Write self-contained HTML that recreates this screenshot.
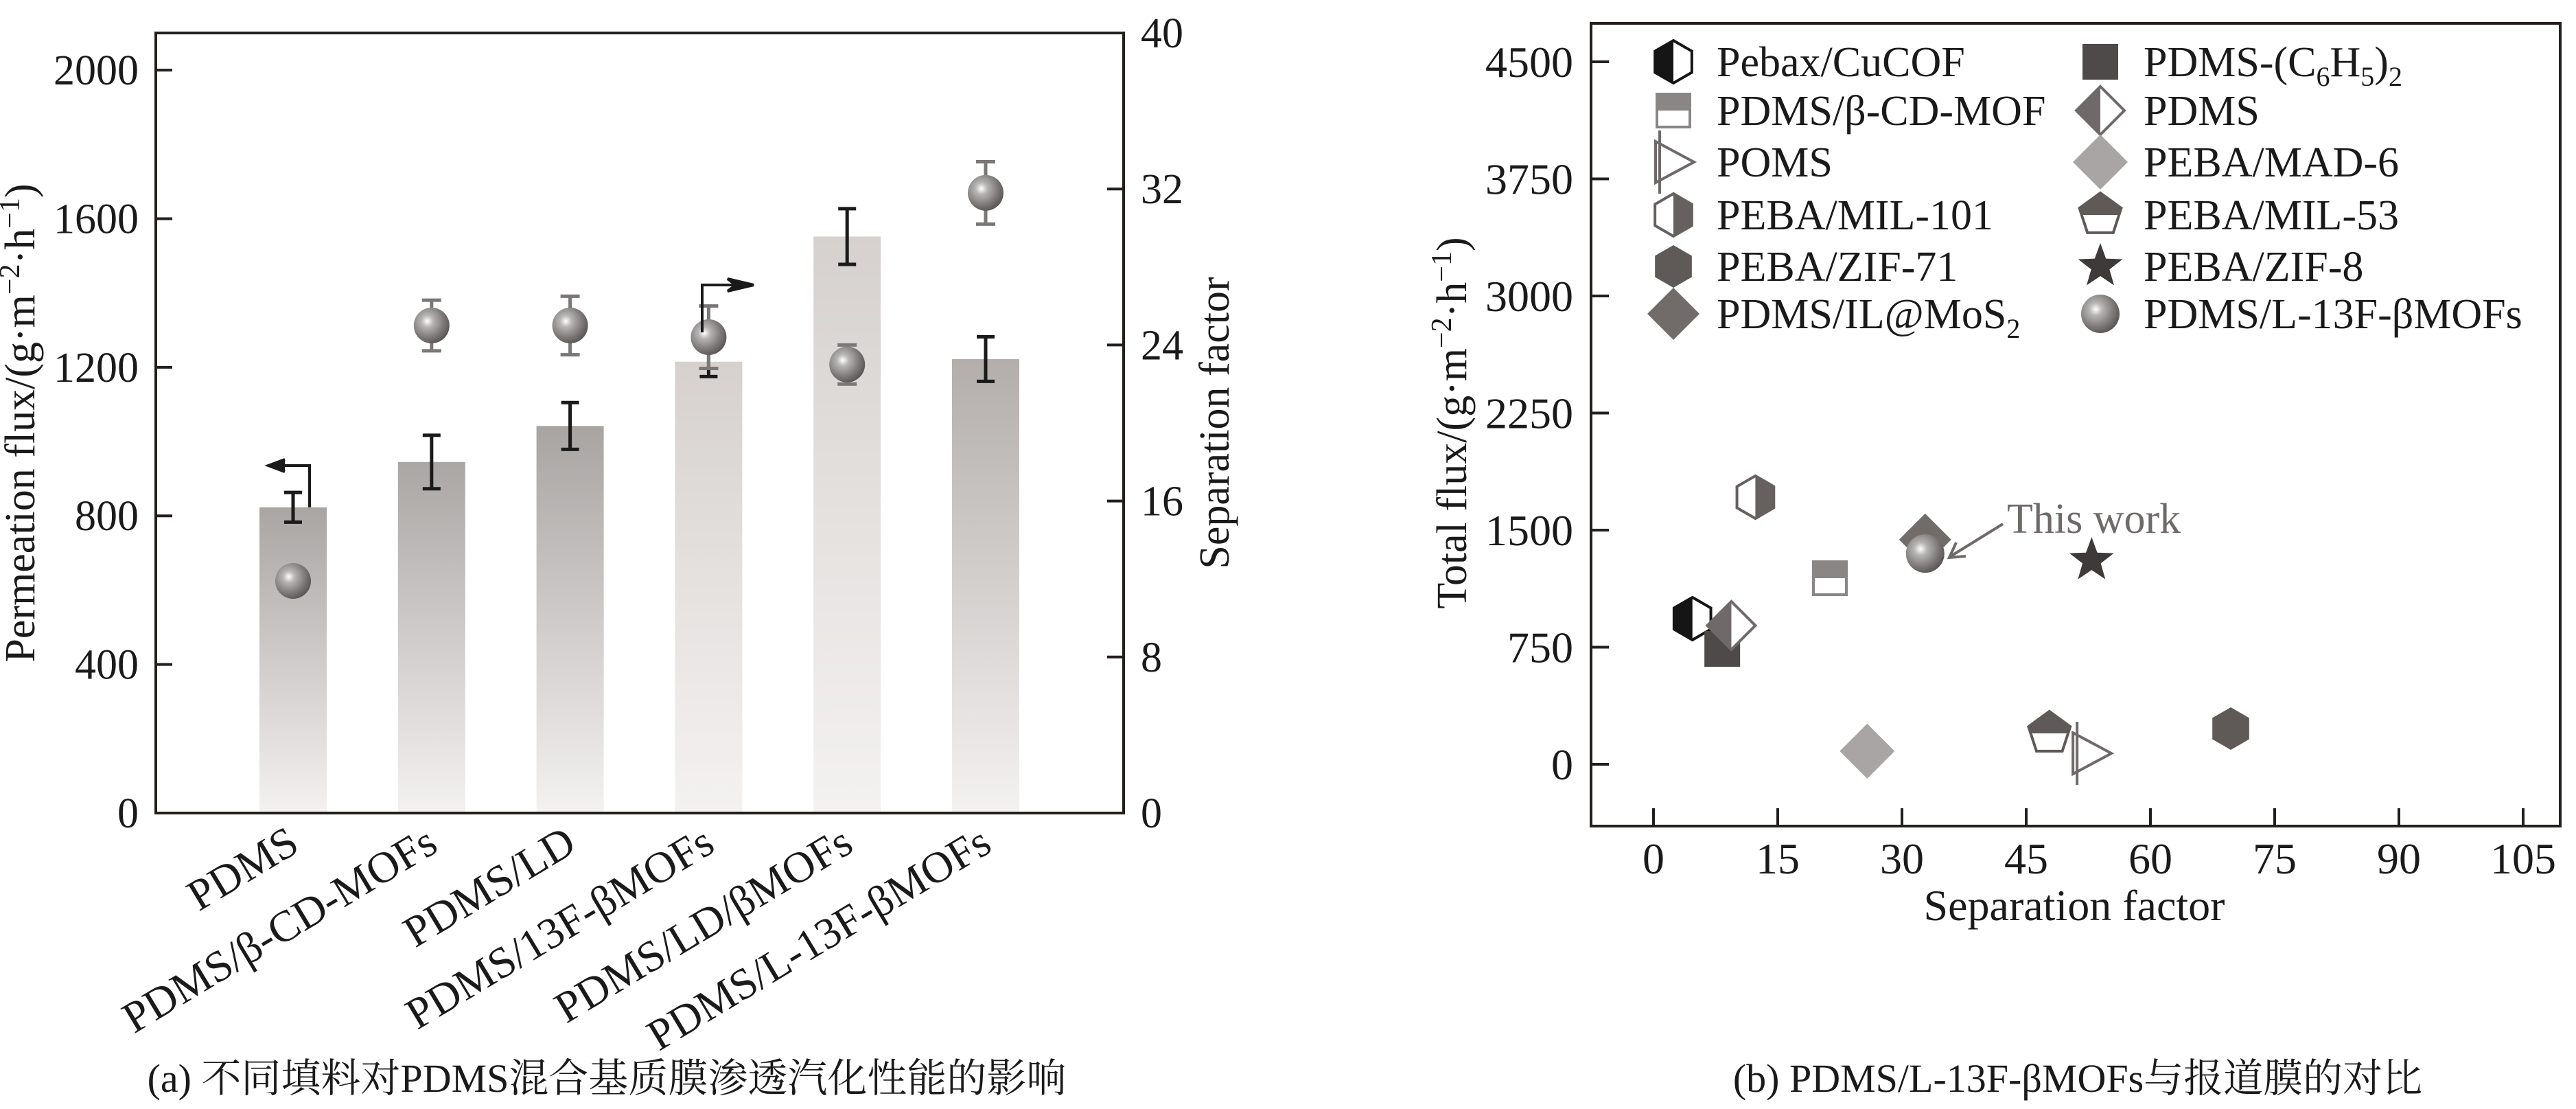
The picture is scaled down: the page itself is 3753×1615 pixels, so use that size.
<!DOCTYPE html>
<html><head><meta charset="utf-8"><style>
html,body{margin:0;padding:0;background:#fff}
svg, svg text{font-family:"Liberation Serif","Noto Serif CJK SC",serif}
svg text{fill:#1a1a1a}
</style></head><body>
<svg id="s" width="3753" height="1610" viewBox="0 0 3753 1610" xmlns="http://www.w3.org/2000/svg" font-family="'Liberation Serif','Noto Serif CJK SC',serif">
<defs>
<radialGradient id="sph" cx="0.38" cy="0.38" r="0.65">
<stop offset="0" stop-color="#ffffff"/><stop offset="0.25" stop-color="#b8b6b5"/><stop offset="0.7" stop-color="#7d7a79"/><stop offset="1" stop-color="#5a5756"/>
</radialGradient>
</defs>
<g id="left"></g>
<g id="right"></g>
</svg>
<script>
// ---- Panel (a) data ----
const categories = ["PDMS","PDMS/β-CD-MOFs","PDMS/LD","PDMS/13F-βMOFs","PDMS/LD/βMOFs","PDMS/L-13F-βMOFs"];
const fluxValues = [823, 945, 1042, 1215, 1552, 1222];
const fluxErrors = [40, 72, 63, 40, 75, 60];
const sepValues = [11.9, 25.0, 25.0, 24.4, 23.0, 31.8];
const sepErrors = [0.6, 1.3, 1.5, 1.6, 1.0, 1.6];
const leftTicks = [0, 400, 800, 1200, 1600, 2000];
const rightTicks = [0, 8, 16, 24, 32, 40];
const barTopColors = ["#a9a5a3","#aaa6a4","#a8a4a2","#d6d1ce","#d6d1ce","#b3aeab"];
// ---- Panel (b) data ----
const seriesNames = ["Pebax/CuCOF","PDMS/β-CD-MOF","POMS","PEBA/MIL-101","PEBA/ZIF-71","PDMS/IL@MoS2","PDMS-(C6H5)2","PDMS","PEBA/MAD-6","PEBA/MIL-53","PEBA/ZIF-8","PDMS/L-13F-βMOFs"];
const seriesSep = [4.7, 21.3, 52.8, 12.3, 69.7, 32.8, 8.3, 9.4, 25.8, 47.8, 52.9, 32.8];
const seriesFlux = [933, 1192, 70, 1711, 229, 1439, 739, 889, 84, 198, 1306, 1350];
const seriesMarkers = ["hexL","sqHalf","tri","hexR","hex","dia","sq","diaHalf","diaLight","pent","star","sphere"];
const xTicksB = [0, 15, 30, 45, 60, 75, 90, 105];
const yTicksB = [0, 750, 1500, 2250, 3000, 3750, 4500];

const NS="http://www.w3.org/2000/svg";
const FF="'Liberation Serif','Noto Serif CJK SC',serif";
function mk(parent, tag, attrs, text){const e=document.createElementNS(NS,tag);for(const k in attrs)e.setAttribute(k,attrs[k]);if(tag==='text')e.setAttribute('font-family',FF);if(text!==undefined)e.textContent=text;parent.appendChild(e);return e;}

// ===== Panel (a) =====
const L=document.getElementById('left');
const ax={x0:227,x1:1637,y0:1184,y1:48};
const yL=v=>ax.y0-v/2100*(ax.y0-ax.y1);
const yR=v=>ax.y0-v/40*(ax.y0-ax.y1);
const xBar=i=>427+i*201.8;
const defs=document.querySelector('defs');
categories.forEach((c,i)=>{
  const g=mk(defs,'linearGradient',{id:'bg'+i,x1:0,y1:0,x2:0,y2:1});
  mk(g,'stop',{offset:0,'stop-color':barTopColors[i]});
  mk(g,'stop',{offset:1,'stop-color':'#f4f2f1'});
});
categories.forEach((c,i)=>{
  const cx=xBar(i), top=yL(fluxValues[i]);
  const b=mk(L,'rect',{x:cx-49,y:top,width:98,height:ax.y0-top,fill:'url(#bg'+i+')'});
  
  
});
categories.forEach((c,i)=>{
  const cx=xBar(i), hi=yL(fluxValues[i]+fluxErrors[i]), lo=yL(fluxValues[i]-fluxErrors[i]);
  const g=mk(L,'g',{stroke:'#1a1a1a','stroke-width':5});
  
  
  mk(g,'line',{x1:cx,y1:hi,x2:cx,y2:lo});
  mk(g,'line',{x1:cx-13,y1:hi,x2:cx+13,y2:hi});
  mk(g,'line',{x1:cx-13,y1:lo,x2:cx+13,y2:lo});
});
categories.forEach((c,i)=>{
  const cx=xBar(i), cy=yR(sepValues[i]), hi=yR(sepValues[i]+sepErrors[i]), lo=yR(sepValues[i]-sepErrors[i]);
  const g=mk(L,'g',{});
  
  
  const e=mk(g,'g',{stroke:'#7a7776','stroke-width':5});
  mk(e,'line',{x1:cx,y1:hi,x2:cx,y2:lo});
  mk(e,'line',{x1:cx-14,y1:hi,x2:cx+14,y2:hi});
  mk(e,'line',{x1:cx-14,y1:lo,x2:cx+14,y2:lo});
  mk(g,'circle',{cx:cx,cy:cy,r:26,fill:'url(#sph)'});
});
const a1=mk(L,'g',{stroke:'#1a1a1a','stroke-width':4,fill:'none'});


mk(a1,'polyline',{points:`${xBar(0)+24},${yL(fluxValues[0])} ${xBar(0)+24},678 ${xBar(0)-34},678`});
mk(a1,'path',{d:`M${xBar(0)-12},669 L${xBar(0)-36},678 L${xBar(0)-12},687`,fill:'#1a1a1a'});
const a2=mk(L,'g',{stroke:'#1a1a1a','stroke-width':4,fill:'none'});


mk(a2,'polyline',{points:`1023,484 1023,415 1094,415`});
mk(a2,'path',{d:`M1060,406 L1098,415 L1060,424 L1072,415 Z`,fill:'#1a1a1a'});
const box=mk(L,'rect',{x:ax.x0,y:ax.y1,width:ax.x1-ax.x0,height:ax.y0-ax.y1,fill:'none',stroke:'#231f1d','stroke-width':4});


leftTicks.forEach(v=>{
  const y=yL(v);
  mk(L,'line',{x1:ax.x0,y1:y,x2:ax.x0+24,y2:y,stroke:'#231f1d','stroke-width':4});
  const t=mk(L,'text',{x:202,y:y+21,'text-anchor':'end','font-size':62},String(v));
  
  
});
rightTicks.forEach(v=>{
  const y=yR(v);
  mk(L,'line',{x1:ax.x1-24,y1:y,x2:ax.x1,y2:y,stroke:'#231f1d','stroke-width':4});
  const t=mk(L,'text',{x:1662,y:y+21,'font-size':62},String(v));
  
  
});
categories.forEach((c,i)=>{
  const x=xBar(i)+12, y=1238;
  const t=mk(L,'text',{x:x,y:y,'text-anchor':'end','font-size':64,transform:`rotate(-31 ${x} ${y})`},c);
  
  
});
</script>
<script>
const S=document.getElementById('s');
const la=mk(S,'text',{x:0,y:0,'font-size':62,'text-anchor':'middle',transform:'translate(50 616) rotate(-90)'});


la.innerHTML='Permeation flux/(g·m<tspan dy="-22" font-size="42">−2</tspan><tspan dy="22">·h</tspan><tspan dy="-22" font-size="42">−1</tspan><tspan dy="22">)</tspan>';
const ra=mk(S,'text',{x:0,y:0,'font-size':62,'text-anchor':'middle',transform:'translate(1790 616) rotate(-90)'},'Separation factor');


const capA=mk(S,'text',{x:884,y:1590,'font-size':58,'text-anchor':'middle'},'(a) 不同填料对PDMS混合基质膜渗透汽化性能的影响');



// ===== Panel (b) =====
const R=document.getElementById('right');
const bx={x0:2318,x1:3730,y0:1203,y1:34};
const xB=v=>2409+v*(181/15);
const yB=v=>1113-v*(1023/4500);
function marker(g,type,cx,cy){
  const hexPts=(r)=>{let p=[];for(let k=0;k<6;k++){const a=Math.PI/180*(60*k-90);p.push([cx+r*Math.cos(a),cy+r*Math.sin(a)]);}return p;};
  const P=a=>a.map(q=>q.join(',')).join(' ');
  if(type==='hexL'||type==='hexR'||type==='hex'){
    const r=31,p=hexPts(r);
    if(type==='hex'){mk(g,'polygon',{points:P(p),fill:'#5f5a58'});return;}
    const dark=type==='hexL'?'#151515':'#66615f';
    mk(g,'polygon',{points:P(p),fill:'#fff'});
    const half=type==='hexL'?[p[0],p[5],p[4],p[3]]:[p[0],p[1],p[2],p[3]];
    mk(g,'polygon',{points:P(half),fill:dark});
    mk(g,'polygon',{points:P(p),fill:'none',stroke:dark,'stroke-width':4});
  } else if(type==='sq'){
    mk(g,'rect',{x:cx-26,y:cy-26,width:52,height:52,fill:'#4e4a49'});
  } else if(type==='sqHalf'){
    mk(g,'rect',{x:cx-24,y:cy-24,width:48,height:48,fill:'#fff',stroke:'#8a8685','stroke-width':4});
    mk(g,'rect',{x:cx-24,y:cy-24,width:48,height:24,fill:'#8a8685'});
  } else if(type==='dia'||type==='diaLight'){
    const r=type==='dia'?38:40;
    mk(g,'polygon',{points:`${cx},${cy-r} ${cx+r},${cy} ${cx},${cy+r} ${cx-r},${cy}`,fill:type==='dia'?'#716c6a':'#a9a5a4'});
  } else if(type==='diaHalf'){
    const r=35;
    mk(g,'polygon',{points:`${cx},${cy-r} ${cx+r},${cy} ${cx},${cy+r} ${cx-r},${cy}`,fill:'#fff',stroke:'#6f6a69','stroke-width':4});
    mk(g,'polygon',{points:`${cx},${cy-r} ${cx},${cy+r} ${cx-r},${cy}`,fill:'#6f6a69'});
  } else if(type==='tri'){
    mk(g,'polygon',{points:`${cx-26},${cy-30} ${cx+30},${cy} ${cx-26},${cy+30}`,fill:'#fff',stroke:'#6f6a69','stroke-width':4});
    mk(g,'line',{x1:cx-20,y1:cy-46,x2:cx-20,y2:cy+46,stroke:'#6f6a69','stroke-width':4});
  } else if(type==='pent'){
    const r=32;let p=[];for(let k=0;k<5;k++){const a=Math.PI/180*(72*k-90);p.push([cx+r*Math.cos(a),cy+r*Math.sin(a)]);}
    mk(g,'polygon',{points:P(p),fill:'#fff',stroke:'#5f5a58','stroke-width':4});
    mk(g,'polygon',{points:P([p[4],p[0],p[1],[cx+29,cy],[cx-29,cy]]),fill:'#5f5a58'});
  } else if(type==='star'){
    const R1=34,R2=14;let p=[];for(let k=0;k<10;k++){const r=k%2?R2:R1;const a=Math.PI/180*(36*k-90);p.push([cx+r*Math.cos(a),cy+r*Math.sin(a)]);}
    mk(g,'polygon',{points:P(p),fill:'#3e3a39'});
  } else if(type==='sphere'){
    mk(g,'circle',{cx:cx,cy:cy,r:28,fill:'url(#sph)'});
  }
}
seriesNames.forEach((n,i)=>{
  const g=mk(R,'g',{});
  
  
  marker(g,seriesMarkers[i],xB(seriesSep[i]),yB(seriesFlux[i]));
});
const fb=mk(R,'rect',{x:bx.x0,y:bx.y1,width:bx.x1-bx.x0,height:bx.y0-bx.y1,fill:'none',stroke:'#231f1d','stroke-width':4});


xTicksB.forEach(v=>{
  const x=xB(v);
  mk(R,'line',{x1:x,y1:bx.y0-26,x2:x,y2:bx.y0,stroke:'#231f1d','stroke-width':4});
  const t=mk(R,'text',{x:x,y:1272,'text-anchor':'middle','font-size':64},String(v));
  
  
});
yTicksB.forEach(v=>{
  const y=yB(v);
  mk(R,'line',{x1:bx.x0,y1:y,x2:bx.x0+26,y2:y,stroke:'#231f1d','stroke-width':4});
  const t=mk(R,'text',{x:2292,y:y+22,'text-anchor':'end','font-size':64},String(v));
  
  
});
const legRows=[90,161,236,313,388,457];
const leg=mk(R,'g',{});


seriesNames.forEach((n,i)=>{
  const col=i<6?0:1,row=i%6;
  const mx=col?3060:2438,tx=col?3123:2501,y=legRows[row];
  const e=mk(leg,'g',{});
  
  
  marker(e,seriesMarkers[i],mx,y);
  const t=mk(e,'text',{x:tx,y:y+21,'font-size':62});
  if(n==='PDMS-(C6H5)2'){t.innerHTML='PDMS-(C<tspan dy="14" font-size="40">6</tspan><tspan dy="-14">H</tspan><tspan dy="14" font-size="40">5</tspan><tspan dy="-14">)</tspan><tspan dy="14" font-size="40">2</tspan>';}
  else if(n==='PDMS/IL@MoS2'){t.innerHTML='PDMS/IL@MoS<tspan dy="14" font-size="40">2</tspan>';}
  else t.textContent=n;
});
const tw=mk(R,'text',{x:2924,y:776,'font-size':62,style:'fill:#6f6a69'},'This work');


const ar=mk(R,'g',{stroke:'#6f6a69','stroke-width':4,fill:'none'});


mk(ar,'line',{x1:2918,y1:763,x2:2842,y2:810});
mk(ar,'polyline',{points:'2850,790 2840,812 2864,810'});
const yt=mk(S,'text',{x:0,y:0,'font-size':62,'text-anchor':'middle',transform:'translate(2136 616) rotate(-90)'});


yt.innerHTML='Total flux/(g·m<tspan dy="-22" font-size="42">−2</tspan><tspan dy="22">·h</tspan><tspan dy="-22" font-size="42">−1</tspan><tspan dy="22">)</tspan>';
const xt=mk(S,'text',{x:3022,y:1340,'font-size':64,'text-anchor':'middle'},'Separation factor');


const capB=mk(S,'text',{x:3027,y:1590,'font-size':58,'text-anchor':'middle'},'(b) PDMS/L-13F-βMOFs与报道膜的对比');


</script>
</body></html>
